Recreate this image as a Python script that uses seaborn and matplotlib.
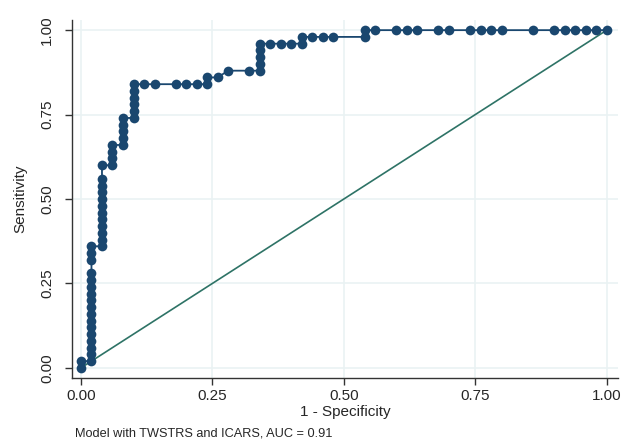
import matplotlib
matplotlib.use("Agg")
import matplotlib.pyplot as plt
import seaborn as sns
import pandas as pd

# ROC points (1 - specificity, sensitivity)
fpr = [0.00, 0.00,
       0.02, 0.02, 0.02, 0.02, 0.02, 0.02, 0.02, 0.02, 0.02, 0.02, 0.02, 0.02, 0.02, 0.02, 0.02, 0.02, 0.02,
       0.04, 0.04, 0.04, 0.04, 0.04, 0.04, 0.04, 0.04, 0.04, 0.04, 0.04, 0.04,
       0.06, 0.06, 0.06, 0.06,
       0.08, 0.08, 0.08, 0.08, 0.08,
       0.10, 0.10, 0.10, 0.10, 0.10, 0.10,
       0.12, 0.14, 0.18, 0.20, 0.22, 0.24, 0.24, 0.26, 0.28, 0.32,
       0.34, 0.34, 0.34, 0.34, 0.34,
       0.36, 0.38, 0.40, 0.42, 0.42, 0.44, 0.46, 0.48, 0.54, 0.54,
       0.56, 0.60, 0.62, 0.64, 0.68, 0.70, 0.74, 0.76, 0.78, 0.80,
       0.86, 0.90, 0.92, 0.94, 0.96, 0.98, 1.00]
tpr = [0.00, 0.02,
       0.02, 0.04, 0.06, 0.08, 0.10, 0.12, 0.14, 0.16, 0.18, 0.20, 0.22, 0.24, 0.26, 0.28, 0.32, 0.34, 0.36,
       0.36, 0.38, 0.40, 0.42, 0.44, 0.46, 0.48, 0.50, 0.52, 0.54, 0.56, 0.60,
       0.60, 0.62, 0.64, 0.66,
       0.66, 0.68, 0.70, 0.72, 0.74,
       0.74, 0.76, 0.78, 0.80, 0.82, 0.84,
       0.84, 0.84, 0.84, 0.84, 0.84, 0.84, 0.86, 0.86, 0.88, 0.88,
       0.88, 0.90, 0.92, 0.94, 0.96,
       0.96, 0.96, 0.96, 0.96, 0.98, 0.98, 0.98, 0.98, 0.98, 1.00,
       1.00, 1.00, 1.00, 1.00, 1.00, 1.00, 1.00, 1.00, 1.00, 1.00,
       1.00, 1.00, 1.00, 1.00, 1.00, 1.00, 1.00]
ref_line = [0.0, 1.0]
ticks = [0.0, 0.25, 0.5, 0.75, 1.0]
tick_labels = ['0.00', '0.25', '0.50', '0.75', '1.00']
nota = 'Model with TWSTRS and ICARS, AUC = 0.91'

sns.set_style('white')
plt.rcParams['font.family'] = ['Liberation Sans', 'DejaVu Sans']

df = pd.DataFrame({'fpr': fpr, 'tpr': tpr})

fig = plt.figure(figsize=(6.24, 4.4), dpi=100)
ax = fig.add_axes([0.1154, 0.1409, 0.8746, 0.8136])

# curva ROC
sns.lineplot(data=df, x='fpr', y='tpr', sort=False, estimator=None, ax=ax,
             color='#1a476f', linewidth=1.3, marker='o', markersize=7,
             markeredgewidth=0, zorder=3)
# linea de referencia
sns.lineplot(x=ref_line, y=ref_line, ax=ax, color='#2e7366', linewidth=1.2, zorder=2)

ax.set_xlim(-0.017, 1.021)
ax.set_ylim(-0.03, 1.03)
ax.set_xticks(ticks)
ax.set_xticklabels(tick_labels, fontsize=11)
ax.set_yticks(ticks)
ax.set_yticklabels(tick_labels, fontsize=11, rotation=90, va='center')
ax.grid(True, color='#eaf2f3', linewidth=1.2)
ax.set_axisbelow(True)
for s in ['top', 'right']:
    ax.spines[s].set_visible(False)
for s in ['left', 'bottom']:
    ax.spines[s].set_color('#333333')
    ax.spines[s].set_linewidth(1.0)
ax.tick_params(axis='both', length=5, width=1, color='#333333', direction='out',
               bottom=True, left=True, pad=3)
ax.tick_params(axis='y', pad=8)
ax.set_xlabel('1 - Specificity', fontsize=11, labelpad=1)
ax.set_ylabel('Sensitivity', fontsize=11, labelpad=9)

fig.text(0.12, 0.002, nota, fontsize=9.2, ha='left', va='bottom')

fig.savefig('out.png', dpi=100)
